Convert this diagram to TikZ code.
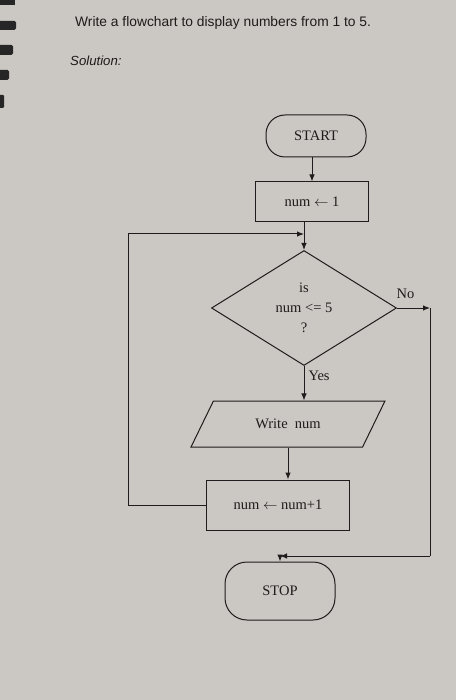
\documentclass[tikz,border=0pt]{standalone}
\usepackage{fontspec}
\newfontfamily\sansfont{Liberation Sans}
\newfontfamily\serfont{Liberation Serif}
\usetikzlibrary{shapes.geometric,arrows.meta}
\definecolor{paper}{RGB}{203,199,194}
\definecolor{ink}{RGB}{30,28,28}
\begin{document}
\begin{tikzpicture}[x=1pt,y=-1pt,
  every node/.style={text=ink},
  line/.style={draw=ink,line width=1pt},
  arr/.style={line,-{Latex[length=7pt,width=5.5pt]}},
  fc/.style={font=\serfont\fontsize{14.5}{20}\selectfont},
  term/.style={line,fc,rectangle,rounded corners=19pt,inner sep=0pt},
  procbox/.style={line,fc,rectangle,inner sep=0pt},
  decbox/.style={line,fc,diamond,aspect=1.6,inner sep=0pt,align=center},
  iobox/.style={line,fc,trapezium,trapezium left angle=45,trapezium right angle=135,trapezium stretches=true,inner sep=0pt},
  lbl/.style={fc}]
\fill[paper] (0,0) rectangle (456,700);
\path[use as bounding box] (0,0) rectangle (456,700);
% binding marks at left edge
\fill[black!85] (0,0) rectangle (15,5);
\fill[black!85,rounded corners=1.5pt] (-2,21) rectangle (16,30);
\fill[black!85,rounded corners=1.5pt] (-2,45) rectangle (13,55);
\fill[black!85,rounded corners=1.5pt] (-2,70) rectangle (9,80);
\fill[black!85,rounded corners=1pt] (-2,95) rectangle (4,108);
% header
\node[anchor=west,inner sep=0pt,font=\sansfont\fontsize{13.8}{16}\selectfont] (title) at (75,23) {Write a flowchart to display numbers from 1 to 5.};
\node[anchor=west,inner sep=0pt,font=\sansfont\itshape\fontsize{13.2}{16}\selectfont] (sol) at (70,61) {Solution:};
% flowchart nodes
\node[term,minimum width=100pt,minimum height=42pt] (start) at (316,136) {START};
\node[procbox,minimum width=113pt,minimum height=40pt] (init) at (312,202) {num $\leftarrow$ 1};
\node[decbox,minimum width=185pt,minimum height=115pt] (dec) at (304,308) {is\\ num <= 5\\ ?};
\node[iobox,minimum width=195pt,minimum height=46pt] (out) at (288,424) {Write\enspace num};
\node[procbox,minimum width=143pt,minimum height=50pt] (inc) at (278,505) {num $\leftarrow$ num+1};
\node[term,minimum width=110pt,minimum height=58pt,rounded corners=22pt] (stop) at (280,591) {STOP};
% junctions
\coordinate (j1) at (304,234);
\coordinate (r1) at (430,308);
\coordinate (r2) at (430,556);
\coordinate (j2) at (280,556);
% connectors
\draw[arr] (start.south -| init.north) -- (init.north);
\draw[arr] (init.south -| dec.north) -- (dec.north);
\draw[arr] (inc.west) -- (128,505) |- (j1);
\draw[arr] (dec.east) -- (r1);
\node[lbl,anchor=south west] (no) at (393,302) {No};
\draw[line] (r1) -- (r2);
\draw[arr] (r2) -- (j2);
\draw[arr] (j2) -- (stop.north);
\draw[arr] (dec.south) -- (dec.south |- out.north);
\node[lbl,anchor=west] (yes) at (305,376) {Yes};
\draw[arr] (out.south) -- (out.south |- inc.north);
\end{tikzpicture}
\end{document}
